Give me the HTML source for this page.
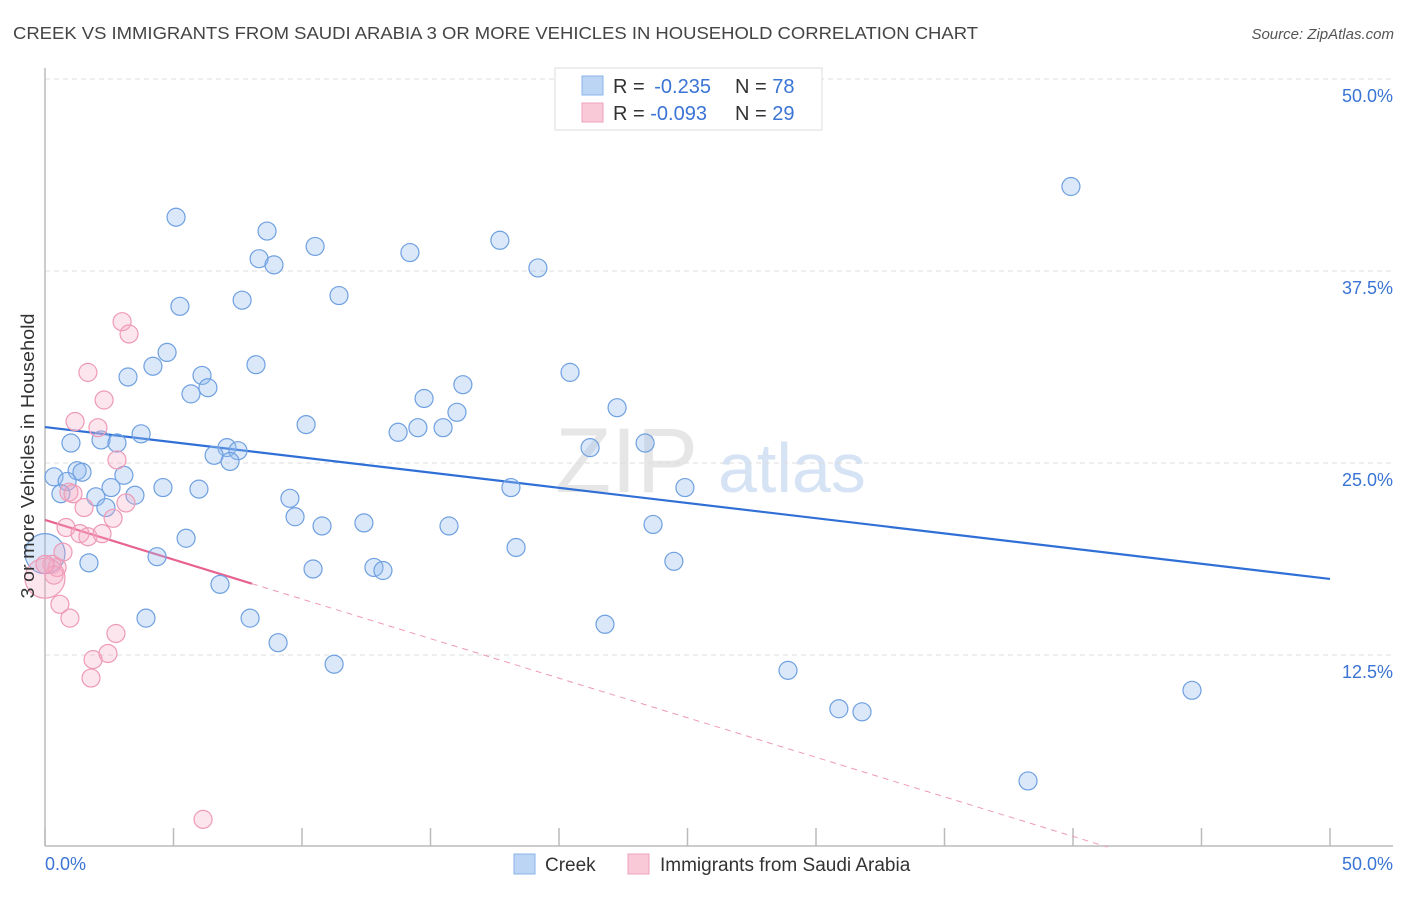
<!DOCTYPE html>
<html><head><meta charset="utf-8"><style>
body{margin:0;background:#fff;font-family:"Liberation Sans",sans-serif;}
svg text{font-family:"Liberation Sans",sans-serif;}
</style></head><body>
<svg id="chart" width="1406" height="892" xmlns="http://www.w3.org/2000/svg">
<text x="13" y="39" font-size="17.5" fill="#444" textLength="965" lengthAdjust="spacingAndGlyphs">CREEK VS IMMIGRANTS FROM SAUDI ARABIA 3 OR MORE VEHICLES IN HOUSEHOLD CORRELATION CHART</text>
<text x="1394" y="39" font-size="15" fill="#555" font-style="italic" text-anchor="end">Source: ZipAtlas.com</text>
<g><text x="555" y="492" font-size="92" fill="#e6e6e6" font-family="Liberation Serif">ZIP</text><text x="718" y="492" font-size="70" fill="#d6e3f5">atlas</text></g>
<g id="grid"></g>
<g id="axes"></g>
<g id="trends"></g>
<g id="points"></g>
<text transform="translate(34,456) rotate(-90)" font-size="18" fill="#333" text-anchor="middle" textLength="285" lengthAdjust="spacingAndGlyphs">3 or more Vehicles in Household</text>
<g>
<rect x="555" y="68" width="267" height="62" fill="#fff" stroke="#ddd"/>
<rect x="582" y="76" width="21" height="19" fill="#bcd5f5" stroke="#8ab4ea"/>
<rect x="582" y="103" width="21" height="19" fill="#f9c9d8" stroke="#eea3bb"/>
<text x="613" y="93" font-size="20" fill="#333">R = <tspan fill="#3a74d4" dx="4">-0.235</tspan></text>
<text x="735" y="93" font-size="20" fill="#333">N = <tspan fill="#3a74d4">78</tspan></text>
<text x="613" y="120" font-size="20" fill="#333">R = <tspan fill="#3a74d4">-0.093</tspan></text>
<text x="735" y="120" font-size="20" fill="#333">N = <tspan fill="#3a74d4">29</tspan></text>
</g>
<g>
<rect x="514" y="854" width="21" height="20" fill="#bcd5f5" stroke="#8ab4ea"/>
<text x="545" y="871" font-size="19" fill="#333">Creek</text>
<rect x="628" y="854" width="21" height="20" fill="#f9c9d8" stroke="#eea3bb"/>
<text x="660" y="871" font-size="19" fill="#333">Immigrants from Saudi Arabia</text>
</g>
</svg>
<script>
const xTicks=[0,5,10,15,20,25,30,35,40,45,50];
const yTicks=[12.5,25,37.5,50];
const yTickLabels=["12.5%","25.0%","37.5%","50.0%"];
const creekX=[5.10,8.64,10.51,8.33,8.91,14.20,17.70,19.18,39.92,5.25,7.67,11.44,4.75,4.20,3.23,8.21,6.11,6.34,5.68,20.43,16.26,14.75,16.03,22.26,10.16,14.51,13.74,15.49,3.74,1.01,2.18,2.80,7.08,7.51,6.58,7.20,21.21,23.35,0.35,1.25,1.44,0.86,3.07,0.62,2.57,1.98,3.50,4.59,5.99,9.53,18.13,24.90,2.37,9.73,10.78,12.41,15.72,23.66,5.49,4.36,18.33,1.71,10.43,12.80,13.15,24.47,6.81,3.93,7.98,9.07,11.25,21.79,28.91,30.89,31.79,44.63,38.25,0];
const creekY=[41.0,40.1,39.1,38.3,37.9,38.7,39.5,37.7,43.0,35.2,35.6,35.9,32.2,31.3,30.6,31.4,30.7,29.9,29.5,30.9,30.1,29.2,28.3,28.6,27.5,27.3,27.0,27.3,26.9,26.3,26.5,26.3,26.0,25.8,25.5,25.1,26.0,26.3,24.1,24.5,24.4,23.8,24.2,23.0,23.4,22.8,22.9,23.4,23.3,22.7,23.4,23.4,22.1,21.5,20.9,21.1,20.9,21.0,20.1,18.9,19.5,18.5,18.1,18.2,18.0,18.6,17.1,14.9,14.9,13.3,11.9,14.5,11.5,9.0,8.8,10.2,4.3,19.1];
const saudiX=[3.00,3.27,1.67,2.30,1.17,2.06,2.80,0.93,1.09,3.15,1.52,2.65,0.82,1.36,1.67,2.22,0.70,0.27,0.47,0.35,0,0.58,0.97,2.76,2.45,1.87,1.79,6.15,0];
const saudiY=[34.2,33.4,30.9,29.1,27.7,27.3,25.2,23.1,23.0,22.4,22.1,21.4,20.8,20.4,20.2,20.4,19.2,18.4,18.2,17.7,17.5,15.8,14.9,13.9,12.6,12.2,11.0,1.8,18.4];
const creekTrend=[27.34,17.45];
const saudiTrend=[21.29,-0.515];
const X0=45,X1=1330,Y0=847,PXY=15.36;
const sx=v=>X0+(X1-X0)*v/50;
const sy=v=>Y0-v*PXY;
const NS="http://www.w3.org/2000/svg";
function mk(tag,attrs,parent){const e=document.createElementNS(NS,tag);for(const k in attrs)e.setAttribute(k,attrs[k]);parent.appendChild(e);return e;}
const grid=document.getElementById('grid'),axes=document.getElementById('axes');
yTicks.forEach((t,i)=>{
  const l=mk('line',{x1:X0,x2:1393,y1:sy(t),y2:sy(t),stroke:'#ddd','stroke-dasharray':'5,4'},grid);
  
  
  const tx=mk('text',{x:1393,y:sy(t)+23,'font-size':18,fill:'#3a74d4','text-anchor':'end'},axes);
  tx.textContent=yTickLabels[i];
  
  
});
const ya=mk('line',{x1:X0,x2:X0,y1:68,y2:846,stroke:'#bbb','stroke-width':1.5},axes);


const xa=mk('line',{x1:X0,x2:1393,y1:846,y2:846,stroke:'#bbb','stroke-width':1.5},axes);


xTicks.forEach(t=>{
  const l=mk('line',{x1:sx(t),x2:sx(t),y1:828,y2:846,stroke:'#bbb','stroke-width':1.5},axes);
  
  
});
const xl0=mk('text',{x:45,y:870,'font-size':18,fill:'#3a74d4'},axes);xl0.textContent='0.0%';


const xl1=mk('text',{x:1393,y:870,'font-size':18,fill:'#3a74d4','text-anchor':'end'},axes);xl1.textContent='50.0%';


const tr=document.getElementById('trends');
const bl=mk('line',{x1:sx(0),y1:sy(creekTrend[0]),x2:sx(50),y2:sy(creekTrend[1]),stroke:'#2f6fd6','stroke-width':2.2},tr);


const pEnd=-saudiTrend[0]/saudiTrend[1];
const ps=mk('line',{x1:sx(0),y1:sy(saudiTrend[0]),x2:sx(8.05),y2:sy(saudiTrend[0]+saudiTrend[1]*8.05),stroke:'#e8628f','stroke-width':2.2},tr);


const pd=mk('line',{x1:sx(8.05),y1:sy(saudiTrend[0]+saudiTrend[1]*8.05),x2:sx(pEnd),y2:sy(0),stroke:'#ef9ab5','stroke-width':1,'stroke-dasharray':'6,5'},tr);


const pts=document.getElementById('points');
creekX.forEach((v,i)=>{
  const big=(i===creekX.length-1);
  const c=mk('circle',{cx:sx(v),cy:sy(creekY[i]),r:big?20:9,fill:'rgba(150,190,240,0.35)',stroke:'#6fa0e0','stroke-width':1.2},pts);
  
  
});
saudiX.forEach((v,i)=>{
  const big=(i===20);
  const c=mk('circle',{cx:sx(v),cy:sy(saudiY[i]),r:big?20:9,fill:'rgba(245,170,195,0.3)',stroke:'#ee9ab6','stroke-width':1.2},pts);
  
  
});
</script>
</body></html>
